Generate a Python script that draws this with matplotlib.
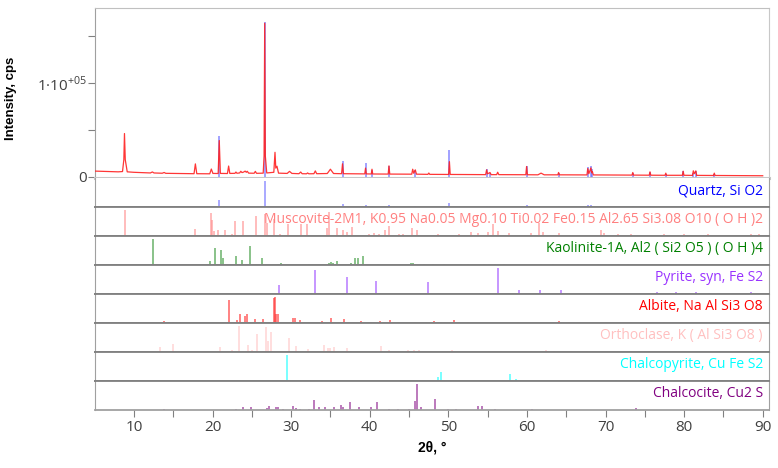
import matplotlib
matplotlib.use("Agg")
import matplotlib.pyplot as plt
from matplotlib.ticker import MultipleLocator, FixedLocator

plt.rcParams['font.family'] = ['Open Sans', 'DejaVu Sans']
plt.rcParams['mathtext.fontset'] = 'custom'
plt.rcParams['mathtext.rm'] = 'Open Sans'

# ---------------- observed pattern (2theta, counts) ----------------
obs_2theta = [5.0, 6.5, 8.0, 8.55, 8.72, 8.8, 8.9, 9.15, 10.0, 12.1, 12.35, 12.55, 13.6, 13.85, 14.05,
              17.65, 17.82, 18.0, 19.65, 19.85, 20.05, 20.72, 20.86, 21.0, 21.9, 22.05, 22.2, 22.85, 22.98, 23.1,
              23.45, 23.6, 23.75, 23.95, 24.15, 24.3, 24.42, 24.6, 25.3, 25.45, 25.6, 26.45, 26.56, 26.64, 26.72, 26.9,
              27.8, 27.95, 28.05, 28.2, 28.4, 29.5, 29.8, 30.1, 31.0, 31.22, 31.4, 31.95, 32.1, 32.25, 32.9, 33.08, 33.25,
              34.6, 35.0, 35.4, 36.42, 36.54, 36.66, 39.37, 39.47, 39.57, 40.2, 40.29, 40.38, 42.35, 42.45, 42.55,
              45.35, 45.47, 45.6, 45.8, 45.95, 47.4, 47.52, 47.64, 50.04, 50.14, 50.24, 54.75, 54.87, 54.99, 55.3, 55.45,
              56.15, 56.28, 56.42, 59.86, 59.96, 60.06, 61.4, 61.8, 62.2, 63.93, 64.03, 64.13, 67.64, 67.74, 67.88,
              68.14, 68.24, 68.32, 68.45, 73.37, 73.47, 73.57, 75.56, 75.66, 75.76, 77.57, 77.67, 77.77, 79.78, 79.88,
              79.98, 81.07, 81.17, 81.3, 81.49, 81.6, 83.74, 83.84, 83.94, 90.0]
obs_cps = [5800, 5400, 5000, 5300, 18000, 46000, 18000, 5000, 4500, 3800, 4900, 3800, 3500, 4300, 3400,
           3000, 13500, 3000, 2900, 8000, 3300, 3200, 38500, 3300, 3200, 11200, 3300, 3400, 4800, 3500,
           3800, 5600, 4200, 4700, 5800, 4500, 5600, 3600, 3500, 5500, 3400, 3600, 22000, 164000, 22000, 3800,
           4500, 25900, 9000, 11000, 3600, 3300, 5500, 3300, 3000, 4800, 3000, 2900, 3800, 2900, 3000, 6000, 3000,
           3200, 7800, 3200, 3000, 13600, 3000, 2800, 9000, 2800, 2700, 7800, 2700, 2600, 11400, 2600,
           2500, 7800, 3500, 7100, 2500, 2300, 3700, 2300, 2200, 15900, 2200, 2000, 7100, 2800, 4300, 2000,
           2000, 4600, 2000, 1900, 10700, 1900, 1800, 3600, 1800, 1800, 4300, 1800, 1700, 8500, 3000,
           9200, 4000, 5500, 1700, 1500, 4300, 1500, 1400, 5000, 1400, 1300, 3600, 1300, 1300, 5700,
           1300, 1200, 6100, 3000, 6000, 1200, 1100, 3600, 1100, 800]

# ---------------- reference stick patterns (2theta, relative intensity %) ----------------
quartz_pos = [20.86, 26.64, 36.54, 39.47, 40.29, 42.45, 45.79, 50.14, 54.87, 55.33, 59.96, 64.03, 67.74,
              68.14, 68.32, 73.47, 75.66, 77.67, 79.88, 81.17, 81.49, 83.84]
quartz_int = [26, 100, 10, 8.5, 4.5, 7, 4.5, 17, 5, 2.5, 7, 2.5, 6, 7, 5, 2.5, 3, 1.5, 3.5, 2.5, 3.5, 1.5]

musc_pos = [8.92, 17.82, 19.81, 19.94, 20.24, 20.7, 21.63, 22.48, 22.91, 23.84, 25.54, 26.68, 26.89, 27.87,
            28.59, 29.56, 31.26, 31.98, 34.57, 34.87, 35.8, 36.56, 37.07, 37.75, 39.96, 40.59, 41.23, 41.9,
            42.5, 43.77, 44.2, 45.38, 45.98, 48.65, 51.4, 52.9, 53.74, 55.01, 55.65, 56.28, 57.77, 60.52,
            61.58, 62.0, 64.13, 69.43, 69.85, 71.55, 73.24, 77.49, 80.03, 83.0, 88.51, 89.57]
musc_int = [100, 27, 88, 60, 20, 23, 23, 8, 58, 58, 77, 85, 50, 65, 8, 46, 46, 46, 30, 92, 30, 23, 15, 35,
            8, 10, 8, 23, 38, 8, 8, 30, 23, 8, 8, 15, 12, 15, 45, 19, 12, 12, 50, 15, 12, 25, 12, 8, 8, 6,
            6, 6, 6, 6]

kaol_pos = [12.39, 19.73, 20.28, 21.13, 21.38, 22.99, 23.71, 24.82, 26.3, 28.29, 28.72, 32.32, 34.78, 35.08,
            35.37, 35.8, 37.62, 38.17, 38.47, 39.11, 41.02, 45.26, 45.47, 46.95, 48.0, 49.5, 51.6, 52.5,
            54.6, 55.2, 55.9, 57.1, 61.8, 63.3, 65.2, 66.5, 69.0, 71.55, 72.8]
kaol_int = [100, 15, 65, 58, 27, 35, 19, 73, 27, 4, 8, 4, 8, 12, 8, 15, 8, 27, 27, 35, 4, 8, 8, 4, 4, 4, 4,
            4, 4, 4, 4, 4, 4, 4, 4, 4, 4, 4, 4]

pyrite_pos = [28.51, 33.03, 37.07, 40.76, 47.42, 56.28, 59.02, 61.67, 64.28, 69.2, 76.6, 78.98, 81.5, 83.2, 88.5]
pyrite_int = [35, 92, 65, 50, 46, 100, 15, 15, 15, 4, 8, 6, 8, 4, 6]

albite_pos = [13.87, 15.02, 15.91, 22.06, 23.08, 23.54, 24.18, 24.39, 25.45, 26.43, 27.78, 27.95, 28.12,
              28.34, 30.2, 30.5, 31.13, 33.93, 35.08, 36.77, 38.9, 40.17, 41.31, 42.58, 43.56, 45.81, 47.16,
              48.22, 49.07, 49.58, 50.77, 52.5, 58.83, 64.13, 65.4, 70.06, 73.2, 77.5]
albite_int = [8, 4, 4, 88, 12, 35, 27, 35, 15, 15, 96, 100, 35, 35, 19, 19, 12, 8, 19, 15, 8, 4, 8, 12, 4,
              4, 4, 8, 4, 4, 12, 4, 4, 8, 4, 4, 4, 4]

orth_pos = [13.32, 15.02, 20.96, 22.48, 23.42, 24.48, 25.03, 25.62, 26.81, 27.06, 27.49, 29.69, 30.63, 32.19,
            34.23, 34.65, 34.99, 35.5, 37.07, 37.62, 41.44, 42.42, 44.83, 45.68, 46.23, 47.8, 50.43, 55.22,
            56.7, 60.52, 62.43, 63.5, 65.6, 67.7]
orth_int = [19, 31, 19, 8, 100, 27, 8, 69, 96, 42, 77, 54, 23, 12, 27, 15, 15, 19, 15, 4, 23, 8, 8, 8, 8, 4,
            8, 4, 4, 4, 8, 4, 4, 4]

chalcopy_pos = [29.43, 33.9, 48.7, 49.07, 57.85, 58.6, 71.3, 79.3]
chalcopy_int = [100, 4, 15, 35, 27, 8, 4, 4]

chalcoc_pos = [13.87, 22.99, 23.84, 24.9, 26.89, 27.23, 28.08, 28.38, 28.93, 30.29, 30.63, 31.18, 32.32,
               32.96, 33.59, 34.36, 35.46, 36.35, 36.56, 37.5, 38.68, 40.21, 40.89, 42.5, 43.56, 45.04,
               45.81, 45.98, 46.53, 48.31, 50.0, 51.0, 53.74, 54.3, 56.0, 60.7, 73.9]
chalcoc_int = [4, 4, 11, 11, 7, 15, 11, 11, 4, 15, 7, 4, 4, 37, 11, 11, 11, 19, 11, 30, 11, 11, 30, 4, 4, 4,
               33, 100, 11, 41, 4, 4, 15, 15, 4, 4, 7]

phase_labels = ["Quartz, Si O2",
                "Muscovite-2M1, K0.95 Na0.05 Mg0.10 Ti0.02 Fe0.15 Al2.65 Si3.08 O10 ( O H )2",
                "Kaolinite-1A, Al2 ( Si2 O5 ) ( O H )4",
                "Pyrite, syn, Fe S2",
                "Albite, Na Al Si3 O8",
                "Orthoclase, K ( Al Si3 O8 )",
                "Chalcopyrite, Cu Fe S2",
                "Chalcocite, Cu2 S"]
phase_pos = [quartz_pos, musc_pos, kaol_pos, pyrite_pos, albite_pos, orth_pos, chalcopy_pos, chalcoc_pos]
phase_int = [quartz_int, musc_int, kaol_int, pyrite_int, albite_int, orth_int, chalcopy_int, chalcoc_int]
label_colors = ['#0000ff', '#ff8080', '#008000', '#9933ff', '#ff0000', '#ffc0c0', '#00ffff', '#800080']
stick_colors = ['#7070ff', '#ff9090', '#3c9a3c', '#a050ff', '#ff3030', '#ffc8c8', '#20ffff', '#902090']

x_ticks = [10, 20, 30, 40, 50, 60, 70, 80, 90]

# ---------------- layout ----------------
W, H = 778, 468
fig = plt.figure(figsize=(W / 100, H / 100), dpi=100)
XL = (5.05, 90.8)
left, right = 95, 769
top_y0, top_y1 = 8, 178
panel_h = 29

def rect(y0, y1):
    return [left / W, 1 - y1 / H, (right - left) / W, (y1 - y0) / H]

ax = fig.add_axes(rect(top_y0, top_y1))
ax.vlines(quartz_pos, 0, [v * 1650 for v in quartz_int], colors='#6060ff', lw=1.1, alpha=0.75, zorder=2)
ax.plot(obs_2theta, obs_cps, color='#ff2020', lw=0.9, alpha=0.9, zorder=3)
ax.set_xlim(*XL)
ax.set_ylim(-1600, 180400)
ax.set_xticks([])
ax.yaxis.set_major_locator(FixedLocator([0, 100000]))
ax.yaxis.set_minor_locator(FixedLocator([50000, 150000]))
ax.set_yticklabels(['0', r'1·10$^{\mathregular{+05}}$'])
ax.tick_params(axis='y', which='both', length=5, width=0.8, color='#808080', labelcolor='#404040',
               labelsize=11, pad=1)
ax.spines['left'].set_color('#a0a0a0')
ax.spines['top'].set_color('#c0c0c0')
ax.spines['right'].set_color('#c8c8c8')
ax.spines['bottom'].set_color('#c8c8c8')
ax.spines['bottom'].set_linewidth(2.2)
ax.set_ylabel('Intensity, cps', fontsize=9.5, fontweight='bold', family=['Liberation Sans', 'DejaVu Sans'])
ax.yaxis.set_label_coords((17 - left) / (right - left), 0.47)

for i in range(8):
    y0 = top_y1 + i * panel_h
    a = fig.add_axes(rect(y0, y0 + panel_h))
    a.vlines(phase_pos[i], 0, phase_int[i], colors=stick_colors[i], lw=1.2, alpha=0.7)
    a.set_xlim(*XL)
    a.set_ylim(0, 112)
    a.set_yticks([])
    a.text(0.991, 0.56, phase_labels[i], transform=a.transAxes, ha='right', va='center',
           color=label_colors[i], fontsize=10)
    for s in ['left', 'right']:
        a.spines[s].set_color('#a0a0a0')
    a.spines['top'].set_visible(i > 0)
    a.spines['top'].set_color('#808080')
    a.spines['top'].set_linewidth(1.3)
    a.spines['bottom'].set_color('#808080')
    a.spines['bottom'].set_linewidth(1.3)
    if i < 7:
        a.set_xticks([])
    else:
        a.xaxis.set_major_locator(FixedLocator(x_ticks))
        a.xaxis.set_minor_locator(MultipleLocator(5))
        a.tick_params(axis='x', which='both', length=5, width=0.8, color='#808080', labelcolor='#404040',
                      labelsize=11, pad=2)
        a.spines['bottom'].set_color('#a0a0a0')
        a.set_xlabel('2θ, °', fontsize=10, fontweight='bold', family=['Liberation Sans', 'DejaVu Sans'],
                     labelpad=4)

fig.savefig('out.png', dpi=100)
